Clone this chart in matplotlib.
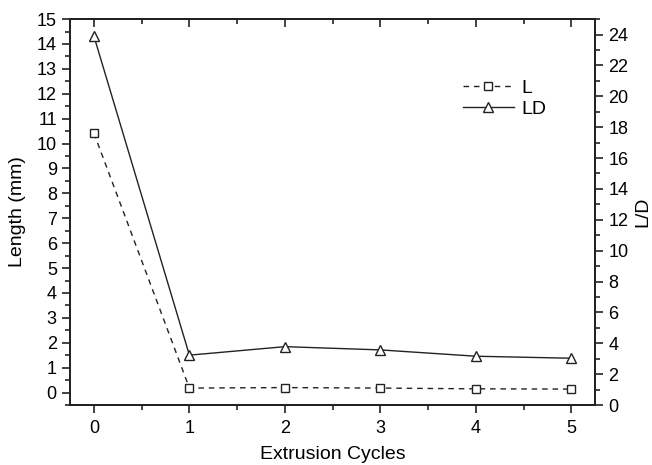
import matplotlib
matplotlib.use("Agg")
import matplotlib.pyplot as plt
from matplotlib.ticker import MultipleLocator

plt.rcParams['font.family'] = ['Liberation Sans', 'DejaVu Sans']

cycles = [0, 1, 2, 3, 4, 5]
length_mm = [10.42, 0.18, 0.20, 0.18, 0.15, 0.14]
l_over_d = [23.9, 3.23, 3.78, 3.57, 3.16, 3.03]

fig = plt.figure(figsize=(6.52, 4.65), dpi=100)
ax = fig.add_axes([0.1074, 0.129, 0.913 - 0.1074, 0.959 - 0.129])
ax2 = ax.twinx()

col = '#222222'
l1, = ax.plot(cycles, length_mm, linestyle='--', color=col, lw=1.0,
              marker='s', markersize=5.5, markerfacecolor='white',
              markeredgecolor=col, markeredgewidth=1.0, label='L',
              dashes=(4, 3.5))
l2, = ax2.plot(cycles, l_over_d, linestyle='-', color=col, lw=1.0,
               marker='^', markersize=7, markerfacecolor='white',
               markeredgecolor=col, markeredgewidth=1.0, label='LD')

ax.set_xlim(-0.25, 5.25)
ax.set_ylim(-0.5, 15)
ax2.set_ylim(0, 25)

ax.xaxis.set_major_locator(MultipleLocator(1))
ax.xaxis.set_minor_locator(MultipleLocator(0.5))
ax.yaxis.set_major_locator(MultipleLocator(1))
ax.yaxis.set_minor_locator(MultipleLocator(0.5))
ax2.set_yticks(range(0, 25, 2))
ax2.yaxis.set_minor_locator(MultipleLocator(1))

fs = 13
ax.tick_params(axis='x', which='both', direction='out', top=False, bottom=True,
               labelsize=fs, width=1.2, color=col, pad=5)
ax.tick_params(axis='x', which='major', length=6)
ax.tick_params(axis='x', which='minor', length=3.5)
ax.tick_params(axis='y', which='both', direction='out', left=True, right=False,
               labelsize=fs, width=1.2, color=col)
ax.tick_params(axis='y', which='major', length=6)
ax.tick_params(axis='y', which='minor', length=3.5)
ax2.tick_params(axis='y', which='both', direction='out', labelsize=fs,
                width=1.2, color=col)
ax2.tick_params(axis='y', which='major', length=6)
ax2.tick_params(axis='y', which='minor', length=3.5)

# top ticks pointing inward (drawn as a separate secondary x axis)
secx = ax.secondary_xaxis('top')
secx.xaxis.set_major_locator(MultipleLocator(1))
secx.xaxis.set_minor_locator(MultipleLocator(0.5))
secx.tick_params(axis='x', which='major', direction='in', length=6,
                 width=1.2, color=col, labeltop=False, top=True)
secx.tick_params(axis='x', which='minor', direction='in', length=3.5,
                 width=1.2, color=col, labeltop=False, top=True)

for a in (ax, ax2):
    for s in a.spines.values():
        s.set_linewidth(1.3)
        s.set_color(col)
secx.spines['top'].set_linewidth(1.3)
secx.spines['top'].set_color(col)

ax.set_xlabel('Extrusion Cycles', fontsize=14, labelpad=6)
ax.set_ylabel('Length (mm)', fontsize=14, labelpad=8)
ax2.set_ylabel('L/D', fontsize=14, labelpad=4)

ax.legend(handles=[l1, l2], loc='upper left', bbox_to_anchor=(0.715, 0.89),
          frameon=False, fontsize=14, handlelength=2.6, handletextpad=0.4,
          labelspacing=0.2)

fig.savefig('out.png', dpi=100)
